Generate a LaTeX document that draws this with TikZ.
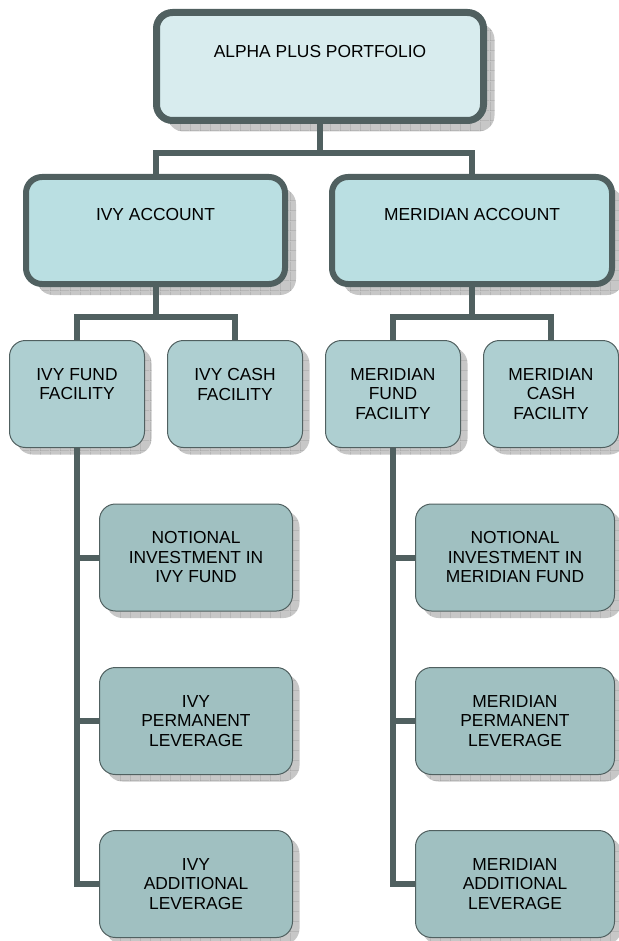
\documentclass[tikz,border=0pt]{standalone}
\usepackage{fontspec}
\setmainfont{Liberation Sans}
\usetikzlibrary{shadows}
\usetikzlibrary{positioning}
\usetikzlibrary{patterns.meta}
\definecolor{edge}{RGB}{80,96,96}
\definecolor{rootfill}{RGB}{216,236,238}
\definecolor{accfill}{RGB}{186,223,226}
\definecolor{facfill}{RGB}{174,207,209}
\definecolor{subfill}{RGB}{160,192,193}
\tikzdeclarepattern{name=shadegrid, type=uncolored,
  bounding box={(0pt,0pt) and (10pt,10pt)}, tile size={(10pt,10pt)},
  code={\draw[line width=0.6pt] (0pt,0pt) -- (10pt,0pt) (0pt,0pt) -- (0pt,10pt);}}
\tikzstyle{boxfont}=[font=\fontsize{17.4}{19.5}\selectfont]
\tikzstyle{bigshadow}=[drop shadow={shadow xshift=11pt, shadow yshift=-11pt, opacity=1, fill=black!22, postaction={pattern=shadegrid, pattern color=black!40}}]
\tikzstyle{smallshadow}=[drop shadow={shadow xshift=7pt, shadow yshift=-7pt, opacity=1, fill=black!22, postaction={pattern=shadegrid, pattern color=black!40}}]
\tikzstyle{rootbox}=[rectangle, rounded corners=16pt, draw=edge, line width=7pt, fill=rootfill, boxfont, minimum width=327pt, inner ysep=0pt, text height=45pt, text depth=63pt, bigshadow]
\tikzstyle{accbox}=[rectangle, rounded corners=16pt, draw=edge, line width=6pt, fill=accfill, boxfont, inner ysep=0pt, text height=44pt, text depth=63pt, bigshadow]
\tikzstyle{facbox}=[rectangle, rounded corners=16pt, draw=edge, line width=1pt, fill=facfill, boxfont, align=center, minimum width=135pt, minimum height=107pt, smallshadow]
\tikzstyle{subbox}=[rectangle, rounded corners=16pt, draw=edge, line width=1pt, fill=subfill, boxfont, align=center, minimum height=107pt, smallshadow]
\tikzstyle{link}=[draw=edge, line width=6pt]

\begin{document}
\begin{tikzpicture}[x=1pt, y=-1pt]
\useasboundingbox (0,0) rectangle (618,941);

%Portfolio
\node[rootbox] (alpha) at (320,66.5) {ALPHA PLUS PORTFOLIO};

%Accounts
    \foreach \pos/\name/\boxw/\label in {{(155.5,230.5)/ivyacc/259/IVY ACCOUNT}, {(472,230.5)/merac/280/MERIDIAN ACCOUNT}}
        \node[accbox, minimum width=\boxw pt] (\name) at \pos {\label};

%Facilities
    \foreach \pos/\name/\label in {{(77,394)/ivyfund/IVY FUND\\FACILITY\\~}, {(235,394)/ivycash/IVY CASH\\FACILITY\\~},
                                   {(393,394)/merfund/MERIDIAN\\FUND\\FACILITY}, {(551,394)/mercash/MERIDIAN\\CASH\\FACILITY}}
        \node[facbox] (\name) at \pos {\label};

%Fund components
    \foreach \pos/\name/\label in {{(196,557.5)/ivynot/NOTIONAL\\INVESTMENT IN\\IVY FUND}, {(196,721)/ivyperm/IVY\\PERMANENT\\LEVERAGE},
                                   {(196,884)/ivyadd/IVY\\ADDITIONAL\\LEVERAGE}}
        \node[subbox, minimum width=193pt] (\name) at \pos {\label};
    \foreach \pos/\name/\label in {{(515,557.5)/mernot/NOTIONAL\\INVESTMENT IN\\MERIDIAN FUND}, {(515,721)/merperm/MERIDIAN\\PERMANENT\\LEVERAGE},
                                   {(515,884)/meradd/MERIDIAN\\ADDITIONAL\\LEVERAGE}}
        \node[subbox, minimum width=199pt] (\name) at \pos {\label};

%Links
\coordinate (topbus) at (320,153);
\coordinate (ivybus) at (155.5,317);
\coordinate (merbus) at (472,317);
\draw[link] (alpha.south) -- (topbus);
\draw[link] (ivyacc.north) |- (topbus) -| (merac.north);
\draw[link] (ivyacc.south) -- (ivybus);
\draw[link] (ivyfund.north) |- (ivybus) -| (ivycash.north);
\draw[link] (merac.south) -- (merbus);
\draw[link] (merfund.north) |- (merbus) -| (mercash.north);
  \foreach \dest in {ivynot, ivyperm, ivyadd}
          \draw[link] (ivyfund.south) |- (\dest.west);
  \foreach \dest in {mernot, merperm, meradd}
          \draw[link] (merfund.south) |- (\dest.west);

\end{tikzpicture}
\end{document}
